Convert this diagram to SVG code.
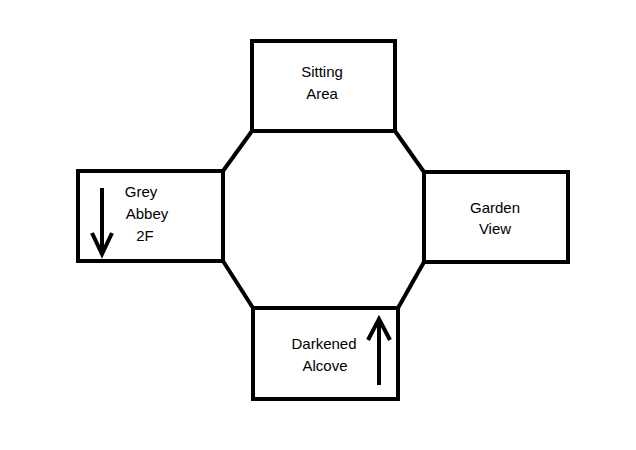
<svg xmlns="http://www.w3.org/2000/svg" width="636" height="450" viewBox="0 0 636 450">
<style>
.box{fill:#fff;stroke:#000;stroke-width:4}
.ln{fill:none;stroke:#000;stroke-width:4}
.t{font-family:"Liberation Sans",Arial,sans-serif;font-size:15px;fill:#000;text-anchor:middle}
</style>
<rect width="636" height="450" fill="#fff"/>
<g id="connectors">
<line class="ln" x1="252" y1="131" x2="223" y2="171"/>
<line class="ln" x1="395" y1="131" x2="424" y2="172"/>
<line class="ln" x1="223" y1="261" x2="253" y2="308"/>
<line class="ln" x1="424" y1="262" x2="398" y2="308"/>
</g>
<g id="sitting-area">
<rect class="box" x="252" y="41" width="143" height="90"/>
<text class="t" x="322" y="77">Sitting</text>
<text class="t" x="322" y="99">Area</text>
</g>
<g id="grey-abbey">
<rect class="box" x="78" y="171" width="145" height="90"/>
<text class="t" x="141" y="197">Grey</text>
<text class="t" x="147" y="219">Abbey</text>
<text class="t" x="145" y="241">2F</text>
<line class="ln" x1="102" y1="188" x2="102" y2="254"/>
<polyline class="ln" points="92,233 102,254 112,233"/>
</g>
<g id="garden-view">
<rect class="box" x="424" y="172" width="144" height="90"/>
<text class="t" x="495" y="213">Garden</text>
<text class="t" x="495" y="234">View</text>
</g>
<g id="darkened-alcove">
<rect class="box" x="253" y="308" width="145" height="91"/>
<text class="t" x="324" y="349">Darkened</text>
<text class="t" x="325" y="371">Alcove</text>
<line class="ln" x1="379" y1="385" x2="379" y2="319"/>
<polyline class="ln" points="368,340 379,319 390,340"/>
</g>
</svg>
